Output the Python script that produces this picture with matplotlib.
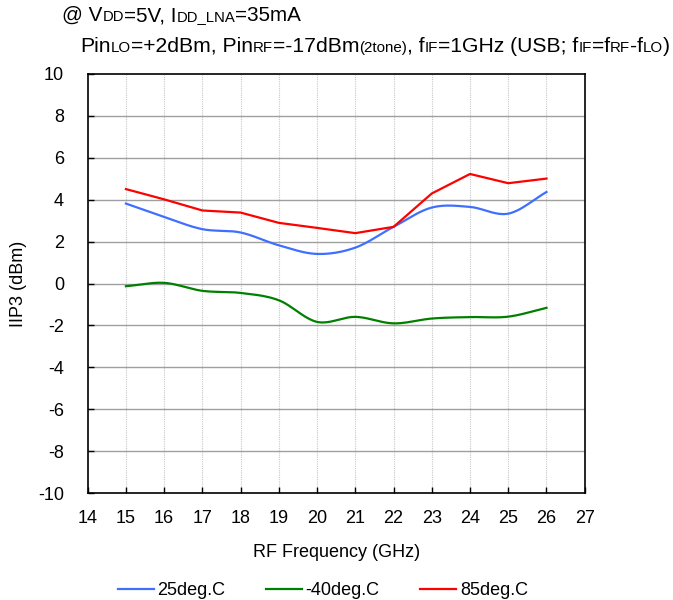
import numpy as np
import matplotlib
matplotlib.use("Agg")
import matplotlib.pyplot as plt

plt.rcParams['font.family'] = ['Liberation Sans', 'DejaVu Sans']
plt.rcParams['axes.unicode_minus'] = False

freq = [15, 16, 17, 18, 19, 20, 21, 22, 23, 24, 25, 26]
iip3_25 = [3.81, 3.17, 2.59, 2.43, 1.82, 1.41, 1.71, 2.70, 3.62, 3.65, 3.33, 4.36]
iip3_m40 = [-0.13, 0.03, -0.35, -0.45, -0.80, -1.83, -1.59, -1.90, -1.67, -1.60, -1.58, -1.16]
iip3_85 = [4.50, 4.01, 3.48, 3.38, 2.89, 2.65, 2.40, 2.70, 4.29, 5.22, 4.78, 5.00]
labels = ["25deg.C", "-40deg.C", "85deg.C"]
colors = ["#3f6fff", "#008000", "#ff0000"]


def smooth(x, y, n=20):
    # Catmull-Rom curve through the points (like a "smoothed line" in a spreadsheet)
    x = np.asarray(x, float)
    y = np.asarray(y, float)
    px = np.concatenate([[2 * x[0] - x[1]], x, [2 * x[-1] - x[-2]]])
    py = np.concatenate([[2 * y[0] - y[1]], y, [2 * y[-1] - y[-2]]])
    xs, ys = [], []
    t = np.linspace(0, 1, n, endpoint=False)
    for i in range(1, len(px) - 2):
        for p, out in ((px, xs), (py, ys)):
            p0, p1, p2, p3 = p[i - 1], p[i], p[i + 1], p[i + 2]
            out.extend(0.5 * (2 * p1 + (-p0 + p2) * t
                              + (2 * p0 - 5 * p1 + 4 * p2 - p3) * t ** 2
                              + (-p0 + 3 * p1 - 3 * p2 + p3) * t ** 3))
    xs.append(x[-1])
    ys.append(y[-1])
    return xs, ys


fig = plt.figure(figsize=(6.73, 6.0), dpi=100)
ax = fig.add_axes([0.1303, 0.1778, 0.7385, 0.6994])

sx, sy = smooth(freq, iip3_25)
ax.plot(sx, sy, color=colors[0], lw=1.6, label=labels[0])
sx, sy = smooth(freq, iip3_m40)
ax.plot(sx, sy, color=colors[1], lw=1.6, label=labels[1])
ax.plot(freq, iip3_85, color=colors[2], lw=1.6, label=labels[2])

ax.set_xlim(14, 27)
ax.set_ylim(-10, 10)
ax.set_xticks(range(14, 28))
ax.set_yticks(range(-10, 11, 2))
for xv in range(15, 27):
    ax.axvline(xv, color="#c8c8c8", lw=0.8, ls=(0, (1, 1)), zorder=0)
for yv in range(-8, 10, 2):
    ax.axhline(yv, color="#a0a0a0", lw=1.0, zorder=0)
for s in ax.spines.values():
    s.set_linewidth(1.2)
ax.tick_params(axis="x", direction="in", length=4, width=1, pad=12, labelsize=13)
ax.tick_params(axis="y", direction="in", length=4, width=1, pad=17, labelsize=13)

ax.set_xlabel("RF Frequency (GHz)", fontsize=13, va="center")
ax.xaxis.set_label_coords(0.5, -0.142)
ax.set_ylabel("IIP3 (dBm)", fontsize=13, va="center")
ax.yaxis.set_label_coords(-0.140, 0.5)

ax.legend(loc="center", bbox_to_anchor=(0.473, -0.232), ncol=3, frameon=False,
          fontsize=13, handlelength=2.0, columnspacing=2.25, handletextpad=0.2)

# header with small "subscript" runs sitting on the baseline
renderer = fig.canvas.get_renderer()


def runs(x0, y0, parts, big=14.9, small=10.7):
    x = x0
    for txt, is_small in parts:
        t = fig.text(x / 673, 1 - y0 / 600, txt, fontsize=small if is_small else big,
                     ha="left", va="baseline")
        bb = t.get_window_extent(renderer)
        x += bb.width


runs(62, 21, [("@ V", False), ("DD", True), ("=5V, I", False), ("DD_LNA", True), ("=35mA", False)])
runs(80, 52, [("Pin", False), ("LO", True), ("=+2dBm, Pin", False), ("RF", True),
              ("=-17dBm", False), ("(2tone)", True), (", f", False), ("IF", True),
              ("=1GHz (USB; f", False), ("IF", True), ("=f", False), ("RF", True),
              ("-f", False), ("LO", True), (")", False)], big=15.2, small=10.9)

fig.savefig("out.png", dpi=100)
